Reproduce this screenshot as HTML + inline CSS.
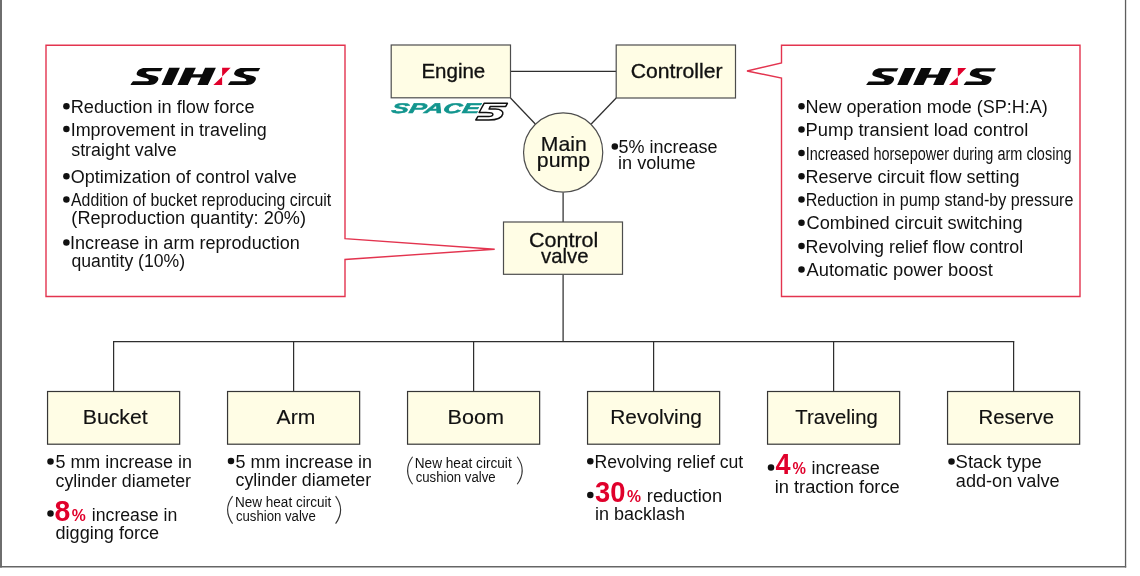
<!DOCTYPE html>
<html><head><meta charset="utf-8"><style>
html,body{margin:0;padding:0;background:#fff;}
svg{display:block;will-change:transform;}
text{font-family:"Liberation Sans",sans-serif;}
</style></head><body>
<svg width="1140" height="576" viewBox="0 0 1140 576">
<rect x="0" y="0" width="2" height="567.5" fill="#6e6e6e"/>
<rect x="1124.9" y="0" width="1.3" height="567.5" fill="#5e5e5e"/>
<rect x="0" y="566" width="1126.2" height="1.5" fill="#666"/>
<polygon points="46,45.3 345,45.3 345,238.6 494.7,249.2 345,259.5 345,296.5 46,296.5" fill="none" stroke="#e3344f" stroke-width="1.4" stroke-linejoin="miter"/>
<polygon points="781.5,45.3 1080,45.3 1080,296.5 781.5,296.5 781.5,78 747,71 781.5,63" fill="none" stroke="#e3344f" stroke-width="1.4"/>
<line x1="510.5" y1="71.3" x2="616.2" y2="71.3" stroke="#2e2e2e" stroke-width="1.25"/>
<line x1="510.5" y1="98" x2="535.3" y2="124" stroke="#2e2e2e" stroke-width="1.25"/>
<line x1="616.2" y1="98" x2="591.2" y2="124" stroke="#2e2e2e" stroke-width="1.25"/>
<line x1="563.1" y1="192.6" x2="563.1" y2="222" stroke="#2e2e2e" stroke-width="1.25"/>
<line x1="563.1" y1="274.3" x2="563.1" y2="341.6" stroke="#2e2e2e" stroke-width="1.25"/>
<line x1="113.0" y1="341.6" x2="1014.3" y2="341.6" stroke="#2e2e2e" stroke-width="1.25"/>
<line x1="113.6" y1="341.6" x2="113.6" y2="391.5" stroke="#2e2e2e" stroke-width="1.25"/>
<line x1="293.6" y1="341.6" x2="293.6" y2="391.5" stroke="#2e2e2e" stroke-width="1.25"/>
<line x1="473.6" y1="341.6" x2="473.6" y2="391.5" stroke="#2e2e2e" stroke-width="1.25"/>
<line x1="653.6" y1="341.6" x2="653.6" y2="391.5" stroke="#2e2e2e" stroke-width="1.25"/>
<line x1="833.6" y1="341.6" x2="833.6" y2="391.5" stroke="#2e2e2e" stroke-width="1.25"/>
<line x1="1013.6" y1="341.6" x2="1013.6" y2="391.5" stroke="#2e2e2e" stroke-width="1.25"/>
<rect x="391.2" y="45" width="119.30" height="52.80" fill="#fffde5" stroke="#4d4d4d" stroke-width="1.2"/>
<rect x="616.2" y="45" width="119.30" height="53.00" fill="#fffde5" stroke="#4d4d4d" stroke-width="1.2"/>
<rect x="503.5" y="222" width="119.00" height="52.30" fill="#fffde5" stroke="#4d4d4d" stroke-width="1.2"/>
<rect x="47.55" y="391.5" width="132.10" height="52.70" fill="#fffde5" stroke="#363636" stroke-width="1.2"/>
<rect x="227.55" y="391.5" width="132.10" height="52.70" fill="#fffde5" stroke="#363636" stroke-width="1.2"/>
<rect x="407.55" y="391.5" width="132.10" height="52.70" fill="#fffde5" stroke="#363636" stroke-width="1.2"/>
<rect x="587.55" y="391.5" width="132.10" height="52.70" fill="#fffde5" stroke="#363636" stroke-width="1.2"/>
<rect x="767.55" y="391.5" width="132.10" height="52.70" fill="#fffde5" stroke="#363636" stroke-width="1.2"/>
<rect x="947.55" y="391.5" width="132.10" height="52.70" fill="#fffde5" stroke="#363636" stroke-width="1.2"/>
<circle cx="563.15" cy="152.5" r="39.6" fill="#fffde5" stroke="#4d4d4d" stroke-width="1.2"/>
<circle cx="66.4" cy="106.3" r="3.25" fill="#111"/>
<circle cx="66.4" cy="129.0" r="3.25" fill="#111"/>
<circle cx="66.4" cy="176.3" r="3.25" fill="#111"/>
<circle cx="66.4" cy="199.5" r="3.25" fill="#111"/>
<circle cx="66.4" cy="242.5" r="3.25" fill="#111"/>
<circle cx="801.5" cy="106.3" r="3.25" fill="#111"/>
<circle cx="801.5" cy="129.6" r="3.25" fill="#111"/>
<circle cx="801.5" cy="152.9" r="3.25" fill="#111"/>
<circle cx="801.5" cy="176.2" r="3.25" fill="#111"/>
<circle cx="801.5" cy="199.5" r="3.25" fill="#111"/>
<circle cx="801.5" cy="222.8" r="3.25" fill="#111"/>
<circle cx="801.5" cy="246.10000000000002" r="3.25" fill="#111"/>
<circle cx="801.5" cy="269.4" r="3.25" fill="#111"/>
<circle cx="614.8" cy="146.5" r="3.25" fill="#111"/>
<circle cx="50.5" cy="461.5" r="3.25" fill="#111"/>
<circle cx="50.5" cy="513.5" r="3.25" fill="#111"/>
<circle cx="231.0" cy="461" r="3.25" fill="#111"/>
<circle cx="590.3" cy="461.2" r="3.25" fill="#111"/>
<circle cx="590.3" cy="495" r="3.25" fill="#111"/>
<circle cx="771" cy="467.6" r="3.25" fill="#111"/>
<circle cx="951.5" cy="461.5" r="3.25" fill="#111"/>
<path d="M232.6,496.1 Q222.6,509.9 232.6,523.6" fill="none" stroke="#333" stroke-width="1.1"/>
<path d="M335.6,496.1 Q345.6,509.9 335.6,523.6" fill="none" stroke="#333" stroke-width="1.1"/>
<path d="M412.6,456.7 Q402.6,470.5 412.6,484.3" fill="none" stroke="#333" stroke-width="1.1"/>
<path d="M517.2,456.7 Q527.2,470.5 517.2,484.3" fill="none" stroke="#333" stroke-width="1.1"/>
<g transform="translate(0,0) translate(0,76.4) scale(1,1.035) translate(0,-76.4)">
<path transform="translate(130.4,68.1)" d="M32.36,0.27 L30.35,3.37 L19.04,3.37 C16.5,3.37 15.4,4.3 15.75,5.0 C16.1,5.9 18,6.6 20.5,7.0 L24,7.6 C27.5,8.2 28.5,9.8 27.8,11.5 C27,13.8 24.5,16.5 19.5,16.5 L0.8,16.5 L0.06,16.15 L2.6,13.05 L16.1,13.05 C17.6,13.05 18.5,12.6 18.5,12.0 C18.5,11.2 17,10.0 13.2,9.3 L10.5,8.6 C7,7.8 5.8,6.6 6.3,5.3 C7,2.5 10,0.27 14.3,0.27 Z" fill="#0a0a0a"/>
<path transform="translate(227.9,68.1)" d="M32.36,0.27 L30.35,3.37 L19.04,3.37 C16.5,3.37 15.4,4.3 15.75,5.0 C16.1,5.9 18,6.6 20.5,7.0 L24,7.6 C27.5,8.2 28.5,9.8 27.8,11.5 C27,13.8 24.5,16.5 19.5,16.5 L0.8,16.5 L0.06,16.15 L2.6,13.05 L16.1,13.05 C17.6,13.05 18.5,12.6 18.5,12.0 C18.5,11.2 17,10.0 13.2,9.3 L10.5,8.6 C7,7.8 5.8,6.6 6.3,5.3 C7,2.5 10,0.27 14.3,0.27 Z" fill="#0a0a0a"/>
<polygon points="169.2,68.1 179.9,68.1 171.8,84.6 161.5,84.6" fill="#0a0a0a"/>
<polygon points="185.4,68.1 195.9,68.1 187.8,84.6 177.4,84.6" fill="#0a0a0a"/>
<polygon points="205.1,68.1 215.9,68.1 207.8,84.6 197.4,84.6" fill="#0a0a0a"/>
<polygon points="190,74.4 210,74.4 208.6,77.4 188.6,77.4" fill="#0a0a0a"/>
<polygon points="222.1,68.1 230.6,68.1 222.1,76.5" fill="#e0002b"/>
<polygon points="222.1,76.7 222.1,84.6 213.3,84.6" fill="#e0002b"/>
</g>
<g transform="translate(735.7,0.2) translate(0,76.4) scale(1,1.035) translate(0,-76.4)">
<path transform="translate(130.4,68.1)" d="M32.36,0.27 L30.35,3.37 L19.04,3.37 C16.5,3.37 15.4,4.3 15.75,5.0 C16.1,5.9 18,6.6 20.5,7.0 L24,7.6 C27.5,8.2 28.5,9.8 27.8,11.5 C27,13.8 24.5,16.5 19.5,16.5 L0.8,16.5 L0.06,16.15 L2.6,13.05 L16.1,13.05 C17.6,13.05 18.5,12.6 18.5,12.0 C18.5,11.2 17,10.0 13.2,9.3 L10.5,8.6 C7,7.8 5.8,6.6 6.3,5.3 C7,2.5 10,0.27 14.3,0.27 Z" fill="#0a0a0a"/>
<path transform="translate(227.9,68.1)" d="M32.36,0.27 L30.35,3.37 L19.04,3.37 C16.5,3.37 15.4,4.3 15.75,5.0 C16.1,5.9 18,6.6 20.5,7.0 L24,7.6 C27.5,8.2 28.5,9.8 27.8,11.5 C27,13.8 24.5,16.5 19.5,16.5 L0.8,16.5 L0.06,16.15 L2.6,13.05 L16.1,13.05 C17.6,13.05 18.5,12.6 18.5,12.0 C18.5,11.2 17,10.0 13.2,9.3 L10.5,8.6 C7,7.8 5.8,6.6 6.3,5.3 C7,2.5 10,0.27 14.3,0.27 Z" fill="#0a0a0a"/>
<polygon points="169.2,68.1 179.9,68.1 171.8,84.6 161.5,84.6" fill="#0a0a0a"/>
<polygon points="185.4,68.1 195.9,68.1 187.8,84.6 177.4,84.6" fill="#0a0a0a"/>
<polygon points="205.1,68.1 215.9,68.1 207.8,84.6 197.4,84.6" fill="#0a0a0a"/>
<polygon points="190,74.4 210,74.4 208.6,77.4 188.6,77.4" fill="#0a0a0a"/>
<polygon points="222.1,68.1 230.6,68.1 222.1,76.5" fill="#e0002b"/>
<polygon points="222.1,76.7 222.1,84.6 213.3,84.6" fill="#e0002b"/>
</g>
<g>
<text transform="translate(0,112.7) skewX(-12) translate(0,-112.7)" x="390.8" y="112.7" font-size="14" font-weight="700" font-style="italic" fill="#12958e" stroke="#12958e" stroke-width="0.5" textLength="88" lengthAdjust="spacingAndGlyphs">SPACE</text>
<path d="M484.1,103.3 L507.4,103.3 L505.75,106.4 L490.3,106.4 L489.1,109 L495.3,109 C501,109 503.5,111.5 502.8,114 C502,117.5 497.5,120 488.7,120 L475.8,120 L477.8,116.6 L488.7,116.6 C491.5,116.6 493,115.5 492.9,114.2 C492.8,113 491,112.5 486,112.5 L479.1,112.5 Z" fill="#fff" stroke="#111" stroke-width="1.5" stroke-linejoin="round"/>
</g>
<text x="421.42" y="77.9" font-size="21" fill="#111" stroke="#111" stroke-width="0.35" textLength="63.84" lengthAdjust="spacingAndGlyphs">Engine</text>
<text x="630.79" y="78.0" font-size="21" fill="#111" stroke="#111" stroke-width="0.35" textLength="91.70" lengthAdjust="spacingAndGlyphs">Controller</text>
<text x="540.89" y="151.0" font-size="21" fill="#111" stroke="#111" stroke-width="0.2" textLength="45.89" lengthAdjust="spacingAndGlyphs">Main</text>
<text x="536.86" y="167.4" font-size="20.5" fill="#111" stroke="#111" stroke-width="0.2" textLength="53.15" lengthAdjust="spacingAndGlyphs">pump</text>
<text x="528.98" y="247.0" font-size="21" fill="#111" stroke="#111" stroke-width="0.3" textLength="69.31" lengthAdjust="spacingAndGlyphs">Control</text>
<text x="541.00" y="262.5" font-size="21" fill="#111" stroke="#111" stroke-width="0.3" textLength="47.46" lengthAdjust="spacingAndGlyphs">valve</text>
<text x="82.74" y="423.8" font-size="20" fill="#111" stroke="#111" stroke-width="0.15" textLength="64.99" lengthAdjust="spacingAndGlyphs">Bucket</text>
<text x="276.60" y="423.8" font-size="20" fill="#111" stroke="#111" stroke-width="0.15" textLength="38.59" lengthAdjust="spacingAndGlyphs">Arm</text>
<text x="447.62" y="423.8" font-size="20" fill="#111" stroke="#111" stroke-width="0.15" textLength="56.39" lengthAdjust="spacingAndGlyphs">Boom</text>
<text x="610.26" y="423.8" font-size="20" fill="#111" stroke="#111" stroke-width="0.15" textLength="91.72" lengthAdjust="spacingAndGlyphs">Revolving</text>
<text x="795.30" y="423.8" font-size="20" fill="#111" stroke="#111" stroke-width="0.15" textLength="82.54" lengthAdjust="spacingAndGlyphs">Traveling</text>
<text x="978.49" y="423.8" font-size="20" fill="#111" stroke="#111" stroke-width="0.15" textLength="75.54" lengthAdjust="spacingAndGlyphs">Reserve</text>
<text x="618.60" y="152.7" font-size="17.5" fill="#111" textLength="98.95" lengthAdjust="spacingAndGlyphs">5% increase</text>
<text x="618.06" y="169.0" font-size="17.5" fill="#111" textLength="77.60" lengthAdjust="spacingAndGlyphs">in volume</text>
<text x="70.65" y="112.9" font-size="19.2" fill="#111" textLength="183.88" lengthAdjust="spacingAndGlyphs">Reduction in flow force</text>
<text x="70.67" y="135.9" font-size="19.2" fill="#111" textLength="196.16" lengthAdjust="spacingAndGlyphs">Improvement in traveling</text>
<text x="71.20" y="155.8" font-size="19.2" fill="#111" textLength="105.43" lengthAdjust="spacingAndGlyphs">straight valve</text>
<text x="70.80" y="182.9" font-size="19.2" fill="#111" textLength="226.03" lengthAdjust="spacingAndGlyphs">Optimization of control valve</text>
<text x="71.00" y="206.3" font-size="19.2" fill="#111" textLength="260.25" lengthAdjust="spacingAndGlyphs">Addition of bucket reproducing circuit</text>
<text x="71.36" y="224.4" font-size="19.2" fill="#111" textLength="234.61" lengthAdjust="spacingAndGlyphs">(Reproduction quantity: 20%)</text>
<text x="70.06" y="249.0" font-size="19.2" fill="#111" textLength="229.77" lengthAdjust="spacingAndGlyphs">Increase in arm reproduction</text>
<text x="71.50" y="267.2" font-size="19.2" fill="#111" textLength="113.56" lengthAdjust="spacingAndGlyphs">quantity (10%)</text>
<text x="805.56" y="112.9" font-size="19.2" fill="#111" textLength="242.20" lengthAdjust="spacingAndGlyphs">New operation mode (SP:H:A)</text>
<text x="805.55" y="136.20000000000002" font-size="19.2" fill="#111" textLength="222.76" lengthAdjust="spacingAndGlyphs">Pump transient load control</text>
<text x="805.74" y="159.5" font-size="19.2" fill="#111" textLength="265.76" lengthAdjust="spacingAndGlyphs">Increased horsepower during arm closing</text>
<text x="805.56" y="182.8" font-size="19.2" fill="#111" textLength="214.07" lengthAdjust="spacingAndGlyphs">Reserve circuit flow setting</text>
<text x="805.66" y="206.10000000000002" font-size="19.2" fill="#111" textLength="267.80" lengthAdjust="spacingAndGlyphs">Reduction in pump stand-by pressure</text>
<text x="806.50" y="229.4" font-size="19.2" fill="#111" textLength="216.14" lengthAdjust="spacingAndGlyphs">Combined circuit switching</text>
<text x="805.57" y="252.70000000000002" font-size="19.2" fill="#111" textLength="217.61" lengthAdjust="spacingAndGlyphs">Revolving relief flow control</text>
<text x="806.50" y="276.0" font-size="19.2" fill="#111" textLength="186.36" lengthAdjust="spacingAndGlyphs">Automatic power boost</text>
<text x="55.50" y="468.1" font-size="17.5" fill="#111" textLength="136.45" lengthAdjust="spacingAndGlyphs">5 mm increase in</text>
<text x="55.50" y="486.8" font-size="17.5" fill="#111" textLength="135.52" lengthAdjust="spacingAndGlyphs">cylinder diameter</text>
<text x="91.79" y="521.0" font-size="17.5" fill="#111" textLength="85.55" lengthAdjust="spacingAndGlyphs">increase in</text>
<text x="55.50" y="538.7" font-size="17.5" fill="#111" textLength="103.66" lengthAdjust="spacingAndGlyphs">digging force</text>
<text x="235.50" y="467.6" font-size="17.5" fill="#111" textLength="136.55" lengthAdjust="spacingAndGlyphs">5 mm increase in</text>
<text x="235.50" y="486.3" font-size="17.5" fill="#111" textLength="135.62" lengthAdjust="spacingAndGlyphs">cylinder diameter</text>
<text x="234.93" y="507.3" font-size="14" fill="#111" textLength="96.36" lengthAdjust="spacingAndGlyphs">New heat circuit</text>
<text x="235.90" y="521.0" font-size="14" fill="#111" textLength="79.90" lengthAdjust="spacingAndGlyphs">cushion valve</text>
<text x="414.73" y="467.5" font-size="14" fill="#111" textLength="96.97" lengthAdjust="spacingAndGlyphs">New heat circuit</text>
<text x="415.70" y="481.6" font-size="14" fill="#111" textLength="79.90" lengthAdjust="spacingAndGlyphs">cushion valve</text>
<text x="594.49" y="467.9" font-size="17.5" fill="#111" textLength="148.77" lengthAdjust="spacingAndGlyphs">Revolving relief cut</text>
<text x="646.86" y="501.5" font-size="17.5" fill="#111" textLength="75.21" lengthAdjust="spacingAndGlyphs">reduction</text>
<text x="594.97" y="519.5" font-size="17.5" fill="#111" textLength="89.98" lengthAdjust="spacingAndGlyphs">in backlash</text>
<text x="811.57" y="474.2" font-size="17.5" fill="#111" textLength="68.19" lengthAdjust="spacingAndGlyphs">increase</text>
<text x="774.65" y="492.6" font-size="17.5" fill="#111" textLength="125.11" lengthAdjust="spacingAndGlyphs">in traction force</text>
<text x="955.60" y="468.0" font-size="17.5" fill="#111" textLength="86.17" lengthAdjust="spacingAndGlyphs">Stack type</text>
<text x="955.80" y="486.5" font-size="17.5" fill="#111" textLength="103.86" lengthAdjust="spacingAndGlyphs">add-on valve</text>
<text x="54.60" y="521.0" font-size="29.5" font-weight="700" fill="#e0002b" textLength="15.79" lengthAdjust="spacingAndGlyphs">8</text>
<text x="71.70" y="521.0" font-size="17" font-weight="700" fill="#e0002b" textLength="14.01" lengthAdjust="spacingAndGlyphs">%</text>
<text x="595.00" y="501.8" font-size="29.5" font-weight="700" fill="#e0002b" textLength="30.38" lengthAdjust="spacingAndGlyphs">30</text>
<text x="627.10" y="501.8" font-size="17" font-weight="700" fill="#e0002b" textLength="14.01" lengthAdjust="spacingAndGlyphs">%</text>
<text x="775.40" y="474.4" font-size="29.5" font-weight="700" fill="#e0002b" textLength="15.06" lengthAdjust="spacingAndGlyphs">4</text>
<text x="792.50" y="474.4" font-size="17" font-weight="700" fill="#e0002b" textLength="13.40" lengthAdjust="spacingAndGlyphs">%</text>
</svg>
</body></html>
